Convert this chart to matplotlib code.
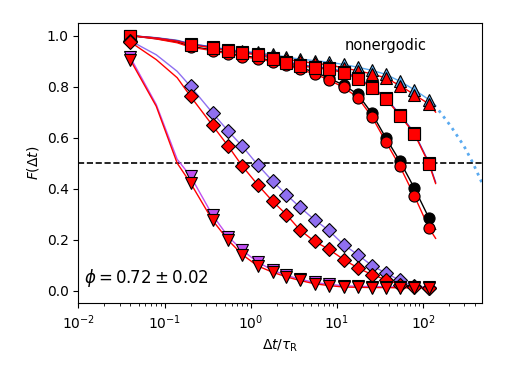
import numpy as np
import matplotlib.pyplot as plt

# tider (delta t / tau_R)
t = [0.04, 0.2, 0.36, 0.55, 0.8, 1.2, 1.8, 2.6, 3.7, 5.5, 8, 12, 17.5, 25.5, 37, 54, 79, 117]
# extra tider for linjerna (mellan forsta punkterna och lite efter sista)
t_mid = [0.08, 0.14]
t_end = 140

# uppatriktade trianglar
tri_blue = [1.0, 0.968, 0.956, 0.945, 0.939, 0.934, 0.926, 0.916, 0.908, 0.902, 0.896, 0.887, 0.876, 0.864, 0.848, 0.821, 0.788, 0.749]
tri_red = [1.0, 0.966, 0.953, 0.941, 0.935, 0.929, 0.920, 0.908, 0.899, 0.892, 0.885, 0.874, 0.862, 0.850, 0.834, 0.804, 0.769, 0.732]
# kvadrater
sq_blue = [1.0, 0.968, 0.955, 0.943, 0.936, 0.929, 0.914, 0.898, 0.886, 0.878, 0.872, 0.859, 0.835, 0.800, 0.757, 0.690, 0.620, 0.502]
sq_red = [1.0, 0.965, 0.952, 0.939, 0.932, 0.925, 0.910, 0.894, 0.882, 0.874, 0.868, 0.855, 0.831, 0.796, 0.753, 0.686, 0.616, 0.498]
# cirklar
circ_black = [1.0, 0.958, 0.944, 0.931, 0.922, 0.913, 0.902, 0.888, 0.874, 0.858, 0.834, 0.806, 0.770, 0.695, 0.599, 0.507, 0.403, 0.285]
circ_red = [1.0, 0.955, 0.941, 0.928, 0.918, 0.909, 0.898, 0.883, 0.868, 0.850, 0.827, 0.797, 0.757, 0.682, 0.584, 0.487, 0.373, 0.246]
# ruter
dia_purple = [0.980, 0.801, 0.697, 0.625, 0.566, 0.494, 0.429, 0.376, 0.328, 0.278, 0.237, 0.180, 0.141, 0.098, 0.069, 0.040, 0.017, 0.011]
dia_red = [0.975, 0.762, 0.648, 0.566, 0.488, 0.416, 0.350, 0.298, 0.239, 0.193, 0.163, 0.122, 0.089, 0.063, 0.043, 0.024, 0.014, 0.011]
# nedatriktade trianglar
dtri_violet = [0.915, 0.449, 0.296, 0.211, 0.158, 0.112, 0.080, 0.060, 0.045, 0.032, 0.025, 0.019, 0.017, 0.016, 0.015, 0.015, 0.014, 0.014]
dtri_red = [0.905, 0.422, 0.276, 0.197, 0.141, 0.097, 0.072, 0.054, 0.040, 0.027, 0.020, 0.014, 0.013, 0.012, 0.012, 0.011, 0.011, 0.010]

# linjevarden vid t_mid och t_end for varje serie
mid_vals = {
    'tri_blue': [0.992, 0.982], 'tri_red': [0.991, 0.980],
    'sq_blue': [0.991, 0.980], 'sq_red': [0.990, 0.978],
    'circ_black': [0.988, 0.975], 'circ_red': [0.987, 0.972],
    'dia_purple': [0.925, 0.860], 'dia_red': [0.906, 0.835],
    'dtri_violet': [0.730, 0.515], 'dtri_red': [0.723, 0.500],
}
end_vals = {
    'tri_blue': 0.725, 'tri_red': 0.700, 'sq_blue': 0.425, 'sq_red': 0.420,
    'circ_black': 0.240, 'circ_red': 0.205, 'dia_purple': 0.009, 'dia_red': 0.009,
    'dtri_violet': 0.013, 'dtri_red': 0.010,
}

# prickad forlangning av den bla kurvan
t_dot = [117, 150, 210, 300, 380, 480]
dot_vals = [0.749, 0.710, 0.645, 0.566, 0.500, 0.425]

# ritordning: forst det som ligger underst
series = [
    ('tri_blue', tri_blue, '^', '#5aaaf0'),
    ('tri_red', tri_red, '^', 'red'),
    ('circ_black', circ_black, 'o', 'black'),
    ('circ_red', circ_red, 'o', 'red'),
    ('sq_blue', sq_blue, 's', '#3a3ad0'),
    ('sq_red', sq_red, 's', 'red'),
    ('dia_purple', dia_purple, 'D', '#8f6ff0'),
    ('dia_red', dia_red, 'D', 'red'),
    ('dtri_violet', dtri_violet, 'v', '#c050f0'),
    ('dtri_red', dtri_red, 'v', 'red'),
]

fig, ax = plt.subplots(figsize=(5.06, 3.75), dpi=100)
fig.subplots_adjust(left=0.155, right=0.952, bottom=0.191, top=0.939)

for i, (name, vals, marker, color) in enumerate(series):
    # linje genom punkterna
    t_line = [t[0]] + t_mid + t[1:] + [t_end]
    v_line = [vals[0]] + mid_vals[name] + vals[1:] + [end_vals[name]]
    ax.plot(t_line, v_line, '-', color=color, lw=1.0, zorder=2 + i)
    # markorer
    ms = 7.5 if marker == 'D' else 8
    ax.plot(t, vals, marker, color=color, ms=ms, mec='black', mew=0.8,
            ls='none', zorder=12 + i)

ax.plot(t_dot, dot_vals, ':', color='#5aaaf0', lw=2, zorder=1)
ax.axhline(0.5, color='black', ls='--', lw=1.2, zorder=1)

ax.set_xscale('log')
ax.set_xlim(1e-2, 480)
ax.set_ylim(-0.05, 1.05)
ax.set_yticks([0.0, 0.2, 0.4, 0.6, 0.8, 1.0])
ax.set_xlabel(r'$\Delta t/\tau_\mathrm{R}$')
ax.set_ylabel(r'$F(\Delta t)$')

ax.text(0.661, 0.921, 'nonergodic', transform=ax.transAxes, fontsize=10.5,
        va='center', ha='left')
ax.text(0.015, 0.09, r'$\phi = 0.72 \pm 0.02$', transform=ax.transAxes,
        fontsize=12, va='center', ha='left')

fig.savefig('out.png', dpi=100)
